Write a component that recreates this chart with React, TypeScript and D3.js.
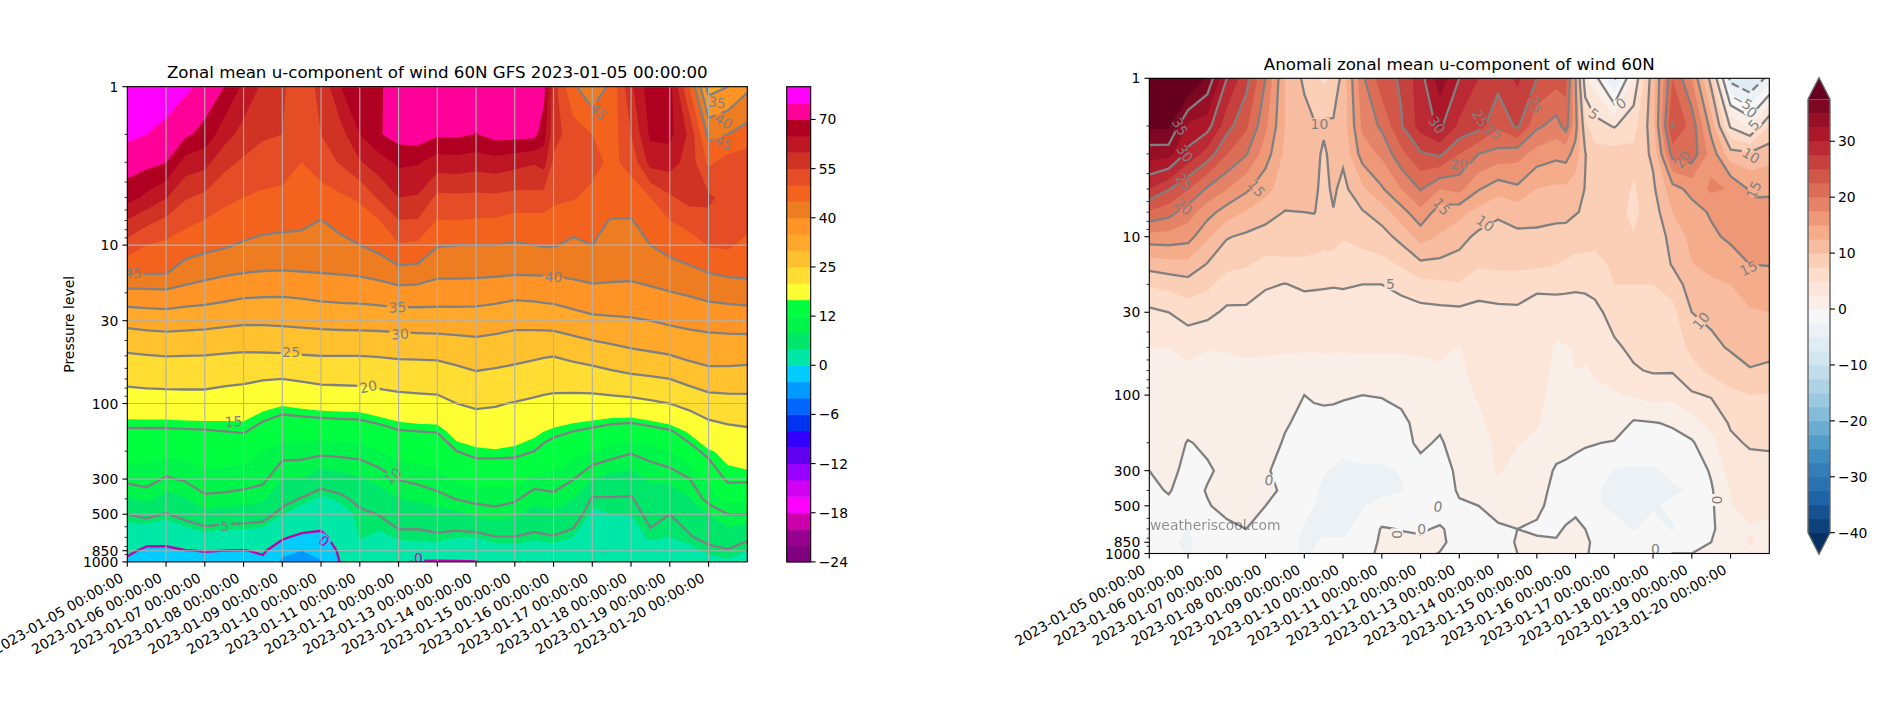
// Zonal mean wind and anomaly cross sections, drawn with d3.contours
import * as d3 from "d3";

const FONT = "DejaVu Sans";
const start = new Date(Date.UTC(2023, 0, 5));
const end = new Date(Date.UTC(2023, 0, 21));
const dayMs = 864e5;
const tickDays = d3.utcDay.range(start, end);
const fmt = d3.utcFormat("%Y-%m-%d %H:%M:%S");

const levels = [1, 2, 3, 5, 7, 10, 15, 20, 30, 50, 70, 100, 150, 200, 300, 400, 500, 700, 850, 1000];
const yMajor = [1, 10, 30, 100, 300, 500, 850, 1000];
const yMinor = [2, 3, 4, 5, 6, 7, 8, 9, 20, 40, 50, 60, 70, 80, 90, 200, 400, 600, 700, 800, 900];

// day offset of each sampled column
const windDays = [0, 0.5, 1, 1.5, 2, 2.5, 3, 3.5, 4, 4.5, 5, 5.5, 6, 6.5, 7, 7.5, 8, 8.5, 9, 9.5, 10, 10.5, 10.75, 11, 11.5, 12, 12.5, 13, 13.5, 14, 14.5, 15, 15.5, 16];
const anomalyDays = [0, 0.5, 1, 1.5, 2, 2.5, 3, 3.5, 4, 4.25, 4.5, 4.75, 5, 5.5, 6, 6.5, 7, 7.5, 8, 8.5, 9, 9.5, 10, 10.5, 10.75, 11, 11.25, 11.5, 12, 12.5, 13, 13.5, 14, 14.5, 15, 15.5, 16];

// zonal mean wind, one row per pressure level
const u1 = [88, 85, 79, 76, 73.5, 70, 64, 59, 55.5, 53, 56, 65, 69, 69.5, 72, 74.5, 74, 73, 73, 73, 72.5, 72, 72, 57, 46, 41, 46.5, 59, 68, 67, 50, 33, 35, 39];
const u2 = [76, 75, 72.9, 71, 68.4, 62.3, 58, 55.5, 55, 52, 55, 58, 65, 69.5, 72.3, 73, 70.8, 71, 69.8, 72, 72, 71.5, 67, 57, 52.5, 50, 47.5, 55, 66, 66.5, 59, 43.7, 45, 47];
const u3 = [72.6, 71.6, 70.2, 63, 61.7, 56.5, 54.2, 53.4, 52.8, 50, 52.7, 55.5, 59.5, 62.8, 66, 65.5, 62.6, 63, 62.2, 63, 61.7, 60.5, 62, 54, 52.5, 51.5, 49, 51.5, 62, 62.2, 58, 49, 52, 53];
const u5 = [67, 63.8, 60.4, 55.5, 53.8, 51.3, 50, 49, 48.5, 48.5, 47.9, 49.2, 50.8, 55.9, 60, 59.5, 53.8, 54, 53.8, 54, 53.3, 53.5, 53, 50.9, 50.4, 48.8, 48.4, 47.7, 50, 54.3, 56.9, 56, 53, 52.5];
const u7 = [59.7, 56.5, 53.9, 51.5, 49.8, 48.3, 47.8, 46.5, 46.1, 46, 44.9, 46.5, 47.7, 49.8, 54.8, 54.7, 49.8, 50, 49.6, 49.5, 48.3, 48.3, 48.5, 48.3, 47, 46.9, 44.6, 44.7, 47.5, 50, 52, 53.7, 53, 51.5];
const u10 = [53, 50, 48.9, 47, 46.4, 45.6, 44.4, 43.9, 43.8, 43.5, 42.8, 43.8, 45, 46.6, 49.6, 49, 45.3, 45, 45, 45, 44.5, 45, 45.3, 45.4, 44, 45, 43, 43, 45, 46.7, 47.5, 50.3, 50.8, 48.7];
const u15 = [45.5, 45.3, 45.2, 43, 41.5, 40.6, 40, 39.7, 39.6, 39.8, 40, 40.3, 40.6, 41.5, 43.3, 43, 41, 41, 40.9, 40.7, 40.4, 40.5, 40.5, 40.6, 41, 41.5, 41, 40.9, 42, 42.8, 44, 45, 45.8, 46];
const u20 = [38.5, 38.7, 39, 38, 37.5, 36.8, 36, 35.8, 35.7, 36, 36.5, 36.8, 37, 37.5, 38, 37.8, 37.5, 37.5, 37.4, 37, 36.3, 36.5, 36.8, 37, 37.8, 38.7, 38.8, 38.7, 39, 39.8, 40.5, 41.5, 42, 42.4];
const u30 = [31.5, 32, 32.2, 32, 31.7, 31.2, 30.8, 30.8, 31, 31.3, 31.6, 31.8, 31.9, 32, 32.2, 32.4, 32.5, 32.5, 32.5, 32, 31.4, 31.6, 31.8, 32, 33, 33.9, 34.2, 34.5, 35, 35.8, 36.3, 36.7, 37, 37.2];
const u50 = [24.4, 24.8, 25.1, 25, 24.9, 24.6, 24.3, 24.4, 24.5, 24.8, 25, 25, 25, 25.2, 25.5, 25.6, 25.7, 26.4, 27.1, 26.8, 26.2, 25.6, 25.3, 25.1, 26, 26.9, 27.9, 28.8, 29.3, 29.8, 31, 31.6, 31.6, 31.4];
const u70 = [21, 21.3, 21.5, 21.5, 21.5, 21, 20.7, 20.2, 20, 20.4, 20.9, 21, 21.1, 21.5, 21.9, 22, 22.1, 23, 23.9, 23.4, 23, 22.4, 22, 21.9, 22.1, 22.4, 23.2, 23.9, 24.4, 25, 26.5, 28, 28, 27.8];
const u100 = [17.8, 17.9, 17.9, 18, 18, 17.7, 17.4, 16.8, 16.3, 16.7, 17, 17.1, 17.2, 17.8, 18.3, 18.6, 18.8, 20, 20.7, 20.3, 19.8, 19.2, 18.9, 18.6, 18.4, 18.3, 18.4, 18.6, 19.3, 20, 21.2, 22.5, 23, 23.2];
const u150 = [14.6, 14.6, 14.6, 14.7, 14.8, 15, 15.2, 14, 13, 13, 13.1, 13.3, 13.4, 14, 14.8, 15, 15.1, 17, 17.2, 17.8, 17.4, 16.5, 16, 15.6, 15, 14.5, 13.8, 13.4, 14, 14.7, 16.3, 18.2, 19, 19.4];
const u200 = [13, 12.8, 12.6, 12.9, 13.2, 13, 12.9, 12, 11, 10.9, 10.7, 10.8, 10.9, 11.9, 12.9, 13.2, 13.5, 15, 15.7, 15.8, 15.5, 15, 14.3, 13.7, 12.8, 12, 11.2, 10.3, 11, 12, 14, 15.8, 16.5, 17];
const u300 = [10.6, 11, 9.7, 10.3, 11.2, 11.2, 11, 10.6, 8, 7.9, 6.3, 7, 7.8, 8.7, 10.1, 10.6, 11.2, 12.4, 13, 12.7, 13.3, 11.3, 11.3, 11.3, 10.1, 8, 7, 7, 8.3, 8.6, 9.9, 12.8, 15.5, 15.5];
const u400 = [7.8, 8.6, 7, 7.8, 9.6, 9.4, 9.1, 8.4, 6, 4.8, 3.6, 4.3, 5.9, 6.7, 8, 8.5, 9.2, 10.1, 10.7, 10.8, 10.4, 8.7, 9, 9.3, 8.1, 4.7, 4.8, 4.7, 6.8, 6.5, 7.7, 11, 12.7, 12.5];
const u500 = [5, 5.8, 4.8, 6, 7.2, 6.8, 6.6, 6.2, 4.1, 2.7, 2, 3.2, 4.4, 5.1, 6.5, 6.3, 7, 7.4, 8.5, 9.2, 8.4, 7, 7.2, 7.5, 6.6, 3.5, 4, 4, 5.7, 5, 5.9, 8, 10, 10];
const u700 = [2.2, 1.5, 1.2, 2.2, 3, 2.6, 2.6, 2.4, 0.3, -0.6, -0.8, 1.4, 4.2, 3.5, 4.2, 4.3, 4.5, 4, 4, 4.8, 4.9, 4.4, 4.6, 4.8, 4, 1.9, 3, 2.5, 4.5, 4, 4.8, 5.7, 6.4, 5.4];
const u850 = [0.7, -0.7, -0.6, -0.1, 0.1, 0, -0.1, 0.3, -1.4, -2, -1.6, 0.4, 3, 3, 3.2, 3.2, 3.2, 2.8, 2.6, 3, 3.2, 2.6, 2.8, 3, 2.2, 1.1, 1.4, 1.2, 2.4, 2.5, 3.2, 4.4, 4.8, 4];
const u1000 = [-0.7, -1.8, -1.3, -1, -1, -0.9, -1, -0.5, -2.4, -2.8, -2.1, 0.1, 4, 2.5, 0.4, -0.3, -0.4, -0.3, -0.1, 1.2, 2, 1.6, 1.7, 1.8, 1, 0.6, 0.8, 0.5, 1.2, 1.5, 2.2, 3.3, 3.7, 3.2];
const windRows = [u1, u2, u3, u5, u7, u10, u15, u20, u30, u50, u70, u100, u150, u200, u300, u400, u500, u700, u850, u1000];

// anomaly, one column per sampled day, pressure levels top to bottom
const a00 = [45, 38, 33.6, 27.5, 22.2, 16.5, 11, 7.8, 4.4, 2.5, 1.5, 1.2, 0.9, 0.6, 0, -0.3, -0.5, -0.8, -0.8, -0.6];
const a05 = [47, 38, 33.5, 25.2, 21, 16.5, 11.6, 8.3, 5, 2.5, 1.7, 1.3, 1, 0.8, 0.4, 0.1, -0.3, -1.5, -2.2, -2];
const a10 = [41, 32, 29.3, 22.7, 18.7, 16, 11.7, 9, 6.1, 3.2, 2, 1.2, 0.6, -0.1, -0.4, -0.6, -1, -2.6, -2.8, -2.6];
const a15 = [37, 31, 26.5, 19.6, 16, 12.9, 9.8, 8, 5.7, 2.6, 1.9, 1.3, 0.8, 0.3, -0.2, 0.1, -0.1, -0.7, -1.5, -1.8];
const a20 = [30, 26, 22.6, 17.6, 13.8, 10.2, 8.1, 6.5, 4.5, 2.7, 1.8, 1.2, 0.7, 0.5, 0.4, 0.4, 0.4, -0.3, -0.6, -1];
const a25 = [26, 23, 20.2, 15.5, 12.3, 9.5, 7.7, 6.4, 4.5, 2.9, 2, 1.5, 1, 0.8, 0.6, 0.5, 0.4, 0, -0.5, -0.9];
const a30 = [20, 18, 16.2, 13.3, 11, 9, 6.8, 5.4, 3.4, 2.8, 2, 1.5, 1, 0.9, 0.1, 0.3, 0, -0.7, -1.3, -1.5];
const a35 = [12.5, 12.5, 12, 11.3, 9.9, 8.8, 7, 4.9, 3.5, 2.7, 2, 1.5, 0.2, -0.2, -0.3, -0.2, -0.1, -1, -1.7, -2];
const a40 = [9.5, 11, 11.3, 10.8, 10, 8.7, 7, 5.5, 3.5, 2.7, 1.8, 0, -0.5, -0.8, -1.2, -1.6, -2.1, -2.6, -2.9, -2.7];
const a425 = [8, 10.3, 11, 10.5, 10.1, 8.5, 6.9, 5.4, 3.5, 2.7, 1.7, 0.2, -0.5, -0.9, -1.8, -2.2, -2.5, -2.7, -2.6, -2.4];
const a45 = [7, 10.5, 9.5, 9.3, 9.3, 8.2, 6.8, 5.3, 3.5, 2.8, 1.6, 0.3, -0.5, -1, -2.4, -2.8, -2.9, -2.8, -2.3, -2.2];
const a475 = [8, 10.4, 11, 10.4, 9.9, 8.2, 6.8, 5.2, 3.5, 2.8, 1.5, 0.3, -0.6, -1.4, -2.7, -2.9, -3, -2.8, -2.3, -2.1];
const a50 = [11, 11, 10.5, 9.3, 8.5, 7.6, 6.8, 5.3, 3.5, 2.8, 1.4, 0.2, -0.8, -1.9, -3, -3, -3.2, -2.8, -2.3, -2];
const a55 = [19.5, 18, 16.2, 12, 9.8, 8.2, 6.6, 5, 3.8, 2.8, 1.7, 0, -1, -1.5, -2.8, -3.2, -2.6, -2, -1, -0.8];
const a60 = [24, 20.5, 18, 14.7, 11.2, 9, 6.7, 5, 3.6, 2.8, 1.7, 0.1, -0.8, -1.6, -2.8, -2.9, -2, 0.2, 0.3, 0.5];
const a65 = [25.3, 24.8, 21.8, 17.5, 14, 10.8, 7.8, 5.8, 3.8, 2.8, 1.7, 0.3, -0.3, -0.5, -2.4, -2.6, -1.5, -0.1, 0.6, 0.2];
const a70 = [29, 28.5, 24.7, 20.2, 16.8, 13.5, 9.4, 6.8, 4.1, 2.9, 1.9, 0.6, 0.4, 0.3, -0.5, -1.9, -1.4, -0.2, 0.3, 0.6];
const a75 = [34, 30.5, 25.5, 17.5, 13.8, 12.3, 9.3, 7, 4.3, 3, 2.2, 1, 0.3, -0.2, -0.6, -0.9, -1, 0.2, 0.5, -0.1];
const a80 = [30, 27, 22.5, 18.3, 13.3, 10.9, 9, 7.3, 4.4, 2.4, 2.2, 1.8, 1.2, 0.8, 0.3, 0.2, -0.2, -0.7, -1, -1.2];
const a85 = [27.5, 26, 20, 15.2, 11.7, 9.4, 7.8, 6, 4.3, 3.4, 3, 2.7, 2.1, 1.6, 1.2, 0.5, 0, -0.4, -0.9, -1];
const a90 = [26, 23, 19.2, 13.5, 10.3, 9.3, 8, 6.4, 4.4, 4.2, 3.9, 3.7, 3.3, 3, 2.7, 2, 0.8, -0.3, -1, -1];
const a95 = [28, 25.5, 18.5, 14.5, 11, 9.5, 8, 6.4, 4.5, 4.2, 3.9, 3.4, 3, 2.6, 1.9, 1.2, 0.8, 0, 0.2, 0];
const a100 = [25, 20.5, 16.5, 12.4, 11, 9.4, 8, 5.4, 4.2, 3.8, 3.5, 3.1, 2.7, 2.1, 1.4, 0.9, 0.6, -0.4, 0.4, 0.7];
const a105 = [23.5, 19, 15.7, 12, 11, 8.8, 7.5, 5.8, 3.6, 2.2, 2, 1.7, 1.4, 1, -0.3, -0.7, -1, -0.4, 0.2, 0.2];
const a1075 = [23.5, 21, 16, 12, 11, 8.7, 7.2, 5.7, 3.6, 2.4, 2.2, 2, 1.6, 0.6, -0.4, -0.8, -0.9, 0.2, 0.6, 0.3];
const a110 = [15, 16, 14, 11.2, 10.2, 8.3, 7, 5.5, 3.7, 2.6, 2.5, 2.3, 1.8, 0.3, -0.5, -1, -0.8, 0.8, 1, 0.5];
const a1125 = [3, 8, 10.1, 9.9, 9.6, 8.2, 7, 5.5, 4, 2.8, 2.4, 2.3, 1.7, 0.2, -0.9, -1.7, -1.5, 0, 0.3, 0.1];
const a115 = [1, 6, 8.5, 9, 8.8, 8, 7, 5.6, 4.5, 3, 2.6, 2.3, 1.5, 0.1, -1.2, -2.3, -2.2, -0.8, -0.3, -0.2];
const a120 = [-5.5, 4.8, 8.5, 9, 8.3, 7.5, 7.8, 7.5, 5.7, 4.7, 3.3, 2.3, 1.6, -0.2, -2.7, -3, -3, -1.5, -0.8, -0.7];
const a125 = [3, 6.5, 8.2, 7.2, 7, 7.6, 8, 7.5, 6.2, 5.4, 4.8, 2.7, -0.3, -1, -2.8, -3, -3, -2.7, -0.6, -0.2];
const a130 = [11.5, 11.5, 10.5, 9.5, 8.7, 8, 8, 7.5, 6, 5.5, 5.2, 3.5, -0.1, -1, -2.8, -3, -2.8, -1.5, 0, -0.2];
const a135 = [22.5, 25.2, 21, 14, 12.5, 11, 10.2, 8.5, 6.8, 6, 5.2, 3.2, 0.2, -0.6, -2, -2.8, -2, -2.7, -0.7, 0];
const a140 = [17.5, 21.5, 21.5, 15.8, 14, 13.2, 12.4, 11.3, 10, 8.2, 6.6, 4.7, 1.5, -0.3, -1.7, -2.3, -2, -1, -0.1, 0];
const a145 = [9, 14, 16.5, 18, 15.3, 14.5, 13.3, 12, 10.7, 9.3, 8.2, 5.2, 3.2, 1.8, 0.3, -0.3, -0.4, -0.4, 0, 0.5];
const a150 = [-6, 4.6, 11, 17.3, 16.5, 15.5, 13.7, 12.5, 11, 10.3, 8.7, 7, 5.3, 4.5, 3.5, 2.6, 2.4, 1.5, 1.2, 1];
const a155 = [-8, 2, 10.5, 14.7, 15.5, 15.5, 15, 13.5, 12.3, 11.2, 9.8, 7.5, 6, 5.3, 4, 3.5, 3, 2.4, 2.8, 1.9];
const a160 = [-4, 7.5, 11.5, 14.5, 16, 15.8, 15.1, 13.7, 12.5, 11.3, 9.2, 7.4, 5.8, 5.3, 4.3, 3.6, 3, 2, 1.7, 1.6];
const anomalyCols = [a00, a05, a10, a15, a20, a25, a30, a35, a40, a425, a45, a475, a50, a55, a60, a65, a70, a75, a80, a85, a90, a95, a100, a105, a1075, a110, a1125, a115, a120, a125, a130, a135, a140, a145, a150, a155, a160];

const windLevels = [-24, -22, -20, -18, -16, -14, -12, -10, -8, -6, -4, -2, 0, 4, 8, 12, 16, 20, 25, 30, 35, 40, 45, 50, 55, 60, 65, 70, 75, 80];
const windColors = ["#800080", "#99008f", "#cc00aa", "#ff00ff", "#d000f0", "#9900ff", "#6000ee", "#3300ff", "#0033ee", "#0066ff", "#0099ff", "#00ccff", "#00e8a8", "#00e66b", "#00f54a", "#00ff3f", "#ffff33", "#ffdd33", "#ffc22e", "#ffa829", "#ff9426", "#ee7d22", "#f4631e", "#e44d26", "#d03224", "#be1622", "#b00022", "#ff0099", "#ff00ff"];
const windLines = [0, 5, 10, 15, 20, 25, 30, 35, 40, 45];
const windTicks = [-24, -18, -12, -6, 0, 12, 25, 40, 55, 70];
// day offset, pressure, text, rotation
const windLabels: [number, number, string, number][] = [
  [0.15, 14.9, "45", 0], [6.97, 24.7, "35", -3], [7.04, 36.4, "30", -3], [4.23, 47.5, "25", 0],
  [11, 15.8, "40", 0], [6.22, 78.3, "20", -12], [2.74, 130, "15", -3], [6.85, 287, "10", -40],
  [2.52, 590, "5", 0], [5.08, 737, "0", 40], [7.51, 949, "0", 0], [12.16, 1.44, "45", 45],
  [15.22, 1.26, "35", 8], [15.39, 1.65, "40", 30], [15.39, 2.26, "45", 30],
];

const anomalyLevels = d3.range(-40, 37.6, 2.5);
const anomalyLines = [-5, 0, 5, 10, 15, 20, 25, 30, 35];
const anomalyTicks = [-40, -30, -20, -10, 0, 10, 20, 30];
const anomalyLabels: [number, number, string, number][] = [
  [0.79, 2.02, "35", 60], [0.92, 2.98, "30", 55], [0.9, 4.5, "25", 50], [0.88, 6.47, "20", 40],
  [2.77, 4.95, "15", 50], [4.39, 1.94, "10", 0], [7.42, 1.97, "30", 55], [7.55, 6.46, "15", 50],
  [8, 3.48, "20", 0], [6.22, 20, "5", 0], [8.54, 1.79, "25", 60], [8.88, 2.17, "25", 30],
  [9.96, 1.47, "25", 75], [8.67, 8.23, "10", 35], [11.47, 1.68, "5", 35], [12.17, 1.44, "0", -35],
  [13.75, 3.25, "20", -55], [14.24, 33.9, "10", -50], [15.47, 15.8, "15", -25], [15.6, 5.07, "15", -65],
  [15.53, 3.08, "10", 30], [15.6, 1.97, "5", -50], [15.55, 1.64, "0", 40], [15.3, 1.4, "\u22125", 30],
  [3.09, 344, "0", 10], [6.39, 757, "0", 90], [7.45, 506, "0", 10], [7.03, 700, "0", 0],
  [14.64, 459, "0", 90], [13.06, 940, "0", 0],
];

const rdBu = d3.scaleLinear<string>()
  .domain(d3.range(11).map((i) => i / 10))
  .range(["#053061", "#2166ac", "#4393c3", "#92c5de", "#d1e5f0", "#f7f7f7", "#fddbc7", "#f4a582", "#d6604d", "#b2182b", "#67001f"]);
const anomalyColors = d3.range(anomalyLevels.length + 1).map((i) => rdBu(i / anomalyLevels.length));

const minus = (v: number) => String(v).replace("-", "\u2212");

// contour paths for a grid [row][col]; the grid gets one extra cell each side, clipped later
const makeContours = (rows: number[][], days: number[], thresholds: number[], x: any, y: any) => {
  const nCols = rows[0].length + 2;
  const padded = [rows[0], ...rows, rows[rows.length - 1]].map((r) => [r[0], ...r, r[r.length - 1]]);
  const gen = d3.contours().size([nCols, padded.length]);
  const rowToLog = d3.scaleLinear().domain(d3.range(levels.length)).range(levels.map(Math.log10));
  const colToDay = d3.scaleLinear().domain(d3.range(days.length)).range(days);
  const path = d3.geoPath(
    d3.geoTransform({
      point(px: number, py: number) {
        const t = +start + colToDay(px - 1.5) * dayMs;
        this.stream.point(x(t), y(Math.pow(10, rowToLog(py - 1.5))));
      },
    })
  );
  return thresholds.map((t) => ({ value: t, d: path(gen.contour(padded.flat(), t)) }));
};

const Panel = ({ id, left, top, title, rows, days, fillLevels, fillColors, lineLevels, labels, zeroColor, grid, labelY }: any) => {
  const width = 620;
  const height = 475.2;
  const x = d3.scaleUtc().domain([start, end]).range([left, left + width]);
  const y = d3.scaleLog().domain([1, 1000]).range([top, top + height]);
  const fills = makeContours(rows, days, fillLevels, x, y);
  const lines = makeContours(rows, days, lineLevels, x, y);
  const dayX = (d: number) => x(+start + d * dayMs);
  const bottom = top + height;
  return (
    <g fontFamily={FONT}>
      <defs>
        <clipPath id={`clip-${id}`}>
          <rect x={left} y={top} width={width} height={height} />
        </clipPath>
        <mask id={`gaps-${id}`} maskUnits="userSpaceOnUse" x={left} y={top} width={width} height={height}>
          <rect x={left} y={top} width={width} height={height} fill="white" />
          {labels.map((l: any, i: number) => (
            <rect
              key={i}
              x={-(l[2].length * 9 + 3) / 2}
              y={-6}
              width={l[2].length * 9 + 3}
              height={12}
              fill="black"
              transform={`translate(${dayX(l[0])},${y(l[1])}) rotate(${l[3]})`}
            />
          ))}
        </mask>
      </defs>
      <text x={left + width / 2} y={top - 8.5} textAnchor="middle" fontSize={16.67}>{title}</text>
      <g clipPath={`url(#clip-${id})`}>
        <rect x={left} y={top} width={width} height={height} fill={fillColors[0]} />
        {fills.map((f, i) => (
          <path key={i} d={f.d} fill={fillColors[i + 1] ?? fillColors[fillColors.length - 1]} fillRule="evenodd" />
        ))}
        <g mask={`url(#gaps-${id})`}>
          {lines.map((l) => (
            <path
              key={l.value}
              d={l.d}
              fill="none"
              stroke={l.value === 0 && zeroColor ? zeroColor : "#808080"}
              strokeWidth={2.3}
              strokeDasharray={l.value < 0 ? "8 4" : undefined}
            />
          ))}
        </g>
        {labels.map((l: any, i: number) => (
          <text
            key={i}
            fontSize={13.9}
            fill={l[2] === "0" && zeroColor ? zeroColor : "#808080"}
            textAnchor="middle"
            dominantBaseline="central"
            transform={`translate(${dayX(l[0])},${y(l[1])}) rotate(${l[3]})`}
          >
            {l[2]}
          </text>
        ))}
        {grid && (
          <g stroke="#b0b0b0" strokeWidth={1.1}>
            {tickDays.map((t) => (
              <line key={+t} x1={x(t)} x2={x(t)} y1={top} y2={bottom} />
            ))}
            {yMajor.map((p) => (
              <line key={p} x1={left} x2={left + width} y1={y(p)} y2={y(p)} />
            ))}
          </g>
        )}
      </g>
      <rect x={left} y={top} width={width} height={height} fill="none" stroke="black" strokeWidth={1.1} />
      {tickDays.map((t) => (
        <g key={+t}>
          <line x1={x(t)} x2={x(t)} y1={bottom} y2={bottom + 4.9} stroke="black" strokeWidth={1.1} />
          <text
            fontSize={13.9}
            textAnchor="end"
            transform={`translate(${x(t) - 3},${bottom + 19}) rotate(-30)`}
          >
            {fmt(t)}
          </text>
        </g>
      ))}
      {yMajor.map((p) => (
        <g key={p}>
          <line x1={left - 4.9} x2={left} y1={y(p)} y2={y(p)} stroke="black" strokeWidth={1.1} />
          <text x={left - 9} y={y(p)} textAnchor="end" dominantBaseline="central" fontSize={13.9}>{p}</text>
        </g>
      ))}
      {yMinor.map((p) => (
        <line key={p} x1={left - 2.8} x2={left} y1={y(p)} y2={y(p)} stroke="black" strokeWidth={0.8} />
      ))}
      {labelY && (
        <text
          fontSize={13.9}
          textAnchor="middle"
          transform={`translate(${left - 53},${top + height / 2}) rotate(-90)`}
        >
          {labelY}
        </text>
      )}
    </g>
  );
};

const WindBar = () => {
  const left = 786.7;
  const barW = 24;
  const top = 86.7;
  const h = 475.2;
  const pos = d3.scaleLinear().domain(d3.range(windLevels.length)).range(windLevels.map((_, i) => top + h - (i * h) / (windLevels.length - 1)));
  return (
    <g fontFamily={FONT}>
      {windColors.map((c, i) => (
        <rect key={i} x={left} y={pos(i + 1)} width={barW} height={pos(i) - pos(i + 1) + 0.5} fill={c} />
      ))}
      <rect x={left} y={top} width={barW} height={h} fill="none" stroke="black" strokeWidth={1.1} />
      {windTicks.map((t) => {
        const yy = pos(windLevels.indexOf(t));
        return (
          <g key={t}>
            <line x1={left + barW} x2={left + barW + 4.9} y1={yy} y2={yy} stroke="black" strokeWidth={1.1} />
            <text x={left + barW + 8} y={yy} dominantBaseline="central" fontSize={13.9}>{minus(t)}</text>
          </g>
        );
      })}
    </g>
  );
};

const AnomalyBar = () => {
  const left = 1808;
  const barW = 22;
  const top = 99.3;
  const bottom = 532.7;
  const tip = 21.5;
  const pos = d3.scaleLinear().domain([-40, 37.5]).range([bottom, top]);
  const n = anomalyColors.length;
  return (
    <g fontFamily={FONT}>
      <path d={`M${left},${top}L${left + barW / 2},${top - tip}L${left + barW},${top}Z`} fill={anomalyColors[n - 1]} />
      <path d={`M${left},${bottom}L${left + barW / 2},${bottom + tip}L${left + barW},${bottom}Z`} fill={anomalyColors[0]} />
      {anomalyLevels.slice(0, -1).map((v, i) => (
        <rect key={i} x={left} y={pos(v + 2.5)} width={barW} height={pos(v) - pos(v + 2.5) + 0.5} fill={anomalyColors[i + 1]} />
      ))}
      <path
        d={`M${left},${top}L${left + barW / 2},${top - tip}L${left + barW},${top}V${bottom}L${left + barW / 2},${bottom + tip}L${left},${bottom}Z`}
        fill="none"
        stroke="#666"
        strokeWidth={1.4}
      />
      {anomalyTicks.map((t) => (
        <g key={t}>
          <line x1={left + barW} x2={left + barW + 4.9} y1={pos(t)} y2={pos(t)} stroke="black" strokeWidth={1.1} />
          <text x={left + barW + 8} y={pos(t)} dominantBaseline="central" fontSize={13.9}>{minus(t)}</text>
        </g>
      ))}
    </g>
  );
};

export default function App() {
  return (
    <svg width={1880} height={704} style={{ position: "absolute", left: 0, top: 0, display: "block" }}>
      <rect width={1880} height={704} fill="white" />
      <Panel
        id="wind"
        left={127.3}
        top={86.7}
        title="Zonal mean u-component of wind 60N GFS 2023-01-05 00:00:00"
        rows={windRows}
        days={windDays}
        fillLevels={windLevels}
        fillColors={["#800080", ...windColors]}
        lineLevels={windLines}
        labels={windLabels}
        zeroColor="#c000a8"
        grid
        labelY="Pressure level"
      />
      <WindBar />
      <Panel
        id="anom"
        left={1149.3}
        top={78.3}
        title="Anomali zonal mean u-component of wind 60N"
        rows={d3.transpose(anomalyCols)}
        days={anomalyDays}
        fillLevels={anomalyLevels}
        fillColors={anomalyColors}
        lineLevels={anomalyLines}
        labels={anomalyLabels}
      />
      <AnomalyBar />
      <text x={1150} y={530} fontFamily={FONT} fontSize={13.9} fill="#000" opacity={0.42}>weatheriscool.com</text>
    </svg>
  );
}
